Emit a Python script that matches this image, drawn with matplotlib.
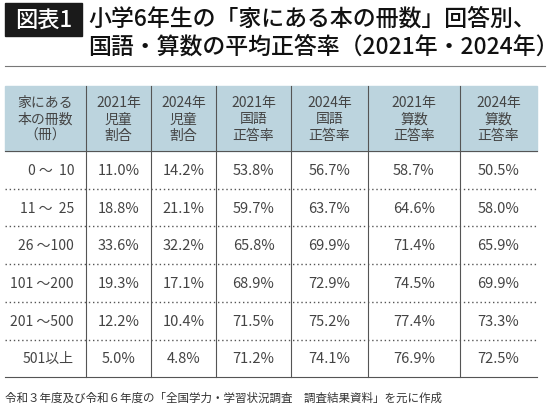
import matplotlib
matplotlib.use("Agg")
import matplotlib.pyplot as plt
from matplotlib.patches import Rectangle

plt.rcParams['font.family'] = ['Noto Sans CJK JP', 'DejaVu Sans']

headers = ["家にある\n本の冊数\n（冊）", "2021年\n児童\n割合", "2024年\n児童\n割合",
           "2021年\n国語\n正答率", "2024年\n国語\n正答率", "2021年\n算数\n正答率", "2024年\n算数\n正答率"]
categories = ["0 ～  10", "11 ～  25", "26 ～100", "101 ～200", "201 ～500", "501以上"]
share_2021 = [11.0, 18.8, 33.6, 19.3, 12.2, 5.0]
share_2024 = [14.2, 21.1, 32.2, 17.1, 10.4, 4.8]
jp_2021 = [53.8, 59.7, 65.8, 68.9, 71.5, 71.2]
jp_2024 = [56.7, 63.7, 69.9, 72.9, 75.2, 74.1]
math_2021 = [58.7, 64.6, 71.4, 74.5, 77.4, 76.9]
math_2024 = [50.5, 58.0, 65.9, 69.9, 73.3, 72.5]

fig = plt.figure(figsize=(5.5, 4.14), dpi=100)
ax = fig.add_axes([0, 0, 1, 1])
ax.set_xlim(0, 550); ax.set_ylim(414, 0); ax.axis('off')

# title
ax.add_patch(Rectangle((5, 4), 77, 33, color='#1a1a1a'))
ax.text(43.5, 20.5, "図表1", color='white', fontsize=16, ha='center', va='center', weight='medium')
ax.text(88, 19, "小学6年生の「家にある本の冊数」回答別、", fontsize=16.5, va='center', color='#111', weight='medium')
ax.text(88, 47, "国語・算数の平均正答率（2021年・2024年）", fontsize=16.5, va='center', color='#111', weight='medium')
ax.plot([5, 545], [67, 67], color='#777', lw=0.8)

xs = [5, 86, 151, 216, 291, 368, 460, 537]
top, hb = 87, 152
rh = 37.7
ax.add_patch(Rectangle((xs[0], top), xs[-1]-xs[0], hb-top, color='#bcd4de', zorder=0))
for i, h in enumerate(headers):
    ax.text((xs[i]+xs[i+1])/2, (top+hb)/2, h, ha='center', va='center', fontsize=10,
            color='#444', linespacing=1.2)
bottom = hb + rh*len(categories)
for x in xs[1:-1]:
    ax.plot([x, x], [top, bottom], color='#555', lw=0.8)
ax.plot([xs[0], xs[-1]], [hb, hb], color='#555', lw=0.8)
ax.plot([xs[0], xs[-1]], [bottom, bottom], color='#555', lw=0.8)
cols = [share_2021, share_2024, jp_2021, jp_2024, math_2021, math_2024]
for r, cat in enumerate(categories):
    y0 = hb + rh*r
    yc = y0 + rh/2
    if r > 0:
        ax.plot([xs[0], xs[-1]], [y0, y0], color='#555', lw=1.0, ls=(0, (1, 2)))
    ax.text(xs[1]-12, yc, cat, ha='right', va='center', fontsize=10, color='#444')
    for c, vals in enumerate(cols):
        ax.text((xs[c+1]+xs[c+2])/2, yc, f"{vals[r]:.1f}%", ha='center', va='center',
                fontsize=10.5, color='#444')

ax.text(5, 398, "令和３年度及び令和６年度の「全国学力・学習状況調査　調査結果資料」を元に作成",
        fontsize=8.3, va='center', color='#333')
fig.savefig("out.png", dpi=100)
